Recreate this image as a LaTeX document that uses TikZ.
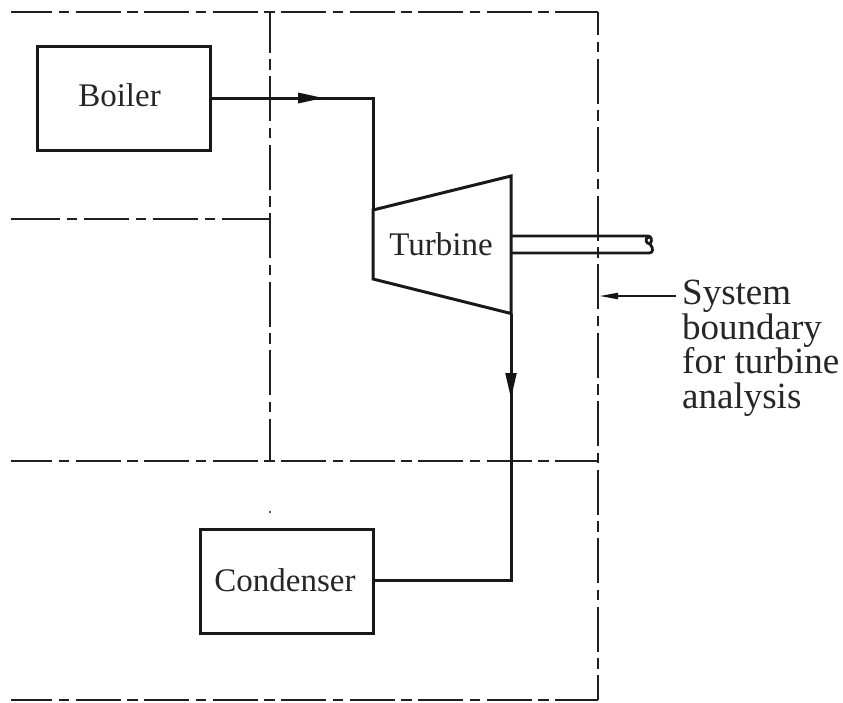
\documentclass[tikz,border=0pt]{standalone}
\usepackage{fontspec}
\setmainfont{Liberation Serif}
\tikzset{
  x=1pt,y=-1pt,
  boundarytop/.style={line width=2.6pt,draw=black!88,dash pattern=on 45pt off 6.5pt on 10.5pt off 6.5pt,dash phase=4pt},
  boundaryright/.style={line width=2.6pt,draw=black!88,dash pattern=on 45pt off 6.5pt on 10.5pt off 6.5pt,dash phase=22pt},
  boundarymid/.style={line width=2.6pt,draw=black!88,dash pattern=on 49pt off 7pt on 10pt off 7pt on 45pt off 7pt on 10pt off 7pt on 45pt off 7pt on 10pt off 7pt on 60pt off 100pt},
  pipe/.style={line width=3pt,draw=black!90,line join=miter},
  box/.style={draw=black!90,line width=3pt,inner sep=0pt,minimum width=173pt,minimum height=104pt},
  caption/.style={font=\fontsize{33}{36}\selectfont,text=black!85,inner sep=0pt,anchor=base},
  flowhead/.style={fill=black!92,draw=none},
}
\begin{document}
\begin{tikzpicture}
\useasboundingbox (0,0) rectangle (843,702);
% boundaries
\coordinate (tl) at (11,12); \coordinate (tm) at (270,12); \coordinate (tr) at (598,12);
\coordinate (ml) at (11,219); \coordinate (mm) at (270,219);
\coordinate (ll) at (11,461); \coordinate (lm) at (270,461); \coordinate (lr) at (598,461);
\coordinate (bl) at (11,700); \coordinate (br) at (598,700);
\draw[boundarytop] (tl) -- (tr);
\draw[boundarytop] (ll) -- (lr);
\draw[boundarytop] (bl) -- (br);
\draw[boundarymid] (ml) -- (mm);
\draw[boundarytop,dash phase=4.5pt] (tm) -- (lm);
\draw[boundaryright] (tr) -- (br);
\fill[black!90] (270,512) circle (1.1pt);
% equipment
\node[box] (boiler) at (123.5,98) {};
\node[caption] (boilertext) at (119.5,106) {Boiler};
\node[box] (condenser) at (287,581) {};
\node[caption] (condensertext) at (285,591) {Condenser};
\draw[pipe] (373,210) coordinate (tin) -- (511,176) -- (511,313.5) coordinate (tout) -- (373,279) -- cycle;
\node[caption] (turbine) at (441,255.5) {Turbine};
% flow lines
\coordinate (bend1) at (373,98);
\coordinate (bend2) at (511,580);
\draw[pipe] (boiler.east) -- (bend1) -- (tin);
\draw[pipe] (tout) -- (bend2) -- (condenser.east |- bend2);
\fill[flowhead] (298,92.5) -- (323,98) -- (298,103.5) -- cycle;
\fill[flowhead] (505.2,373) -- (511,398) -- (516.8,373) -- cycle;
% shaft
\coordinate (s1a) at (511,236); \coordinate (s1b) at (648,236);
\coordinate (s2a) at (511,253); \coordinate (s2b) at (649,253);
\draw[line width=2.8pt,draw=black!90,line join=round] (s1a) -- (s1b)
  .. controls (651,236) and (653,240) .. (650,244)
  .. controls (646,244) and (644,238) .. (649,237);
\draw[line width=2.8pt,draw=black!90,line join=round] (s2a) -- (s2b)
  .. controls (653,253) and (654,249) .. (650,244);
% label
\node[anchor=north west,align=left,inner sep=0pt,font=\fontsize{37}{34.5}\selectfont,text=black!85] (label) at (682,280) {System\\boundary\\for turbine\\analysis};
\coordinate (labelstart) at (676,296);
\coordinate (labeltip) at (600,296);
\draw[line width=2pt,draw=black!90] (labelstart) -- (615,296);
\fill[flowhead] (labeltip) -- (618,292.7) -- (618,299.3) -- cycle;
\end{tikzpicture}
\end{document}
